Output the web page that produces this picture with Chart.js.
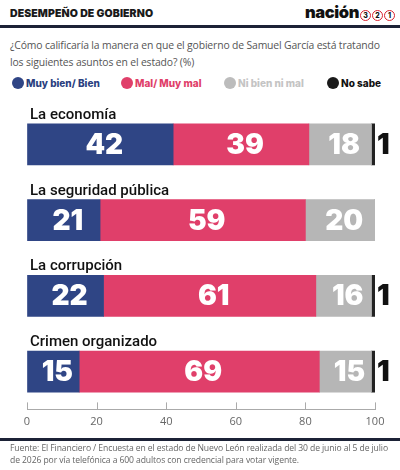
<!doctype html>
<html lang="es">
  <head>
    <meta charset="utf-8">
    <title>Desempeño de gobierno</title>
    <script src="https://cdn.jsdelivr.net/npm/chart.js"></script>
    <style>
        html, body { margin: 0; padding: 0; background: #fff; }
        #page { position: relative; width: 400px; height: 470px; overflow: hidden; font-family: "Inter", sans-serif; }
        .abs { position: absolute; white-space: nowrap; }
        #head { left: 10px; top: 7px; font-size: 10.5px; font-weight: 900; color: #1a1a1a; letter-spacing: 0.1px; }
        #logo { right: 41px; top: 2px; font-size: 16.5px; font-weight: 900; color: #111; letter-spacing: -0.4px; }
        .circ { position: absolute; top: 10px; width: 9px; height: 9px; border: 1.3px solid #d8222f; border-radius: 50%; font-size: 7px; font-weight: 800; line-height: 9px; text-align: center; color: #111; }
        .rule { left: 0; width: 400px; height: 2.5px; background: #1c2236; }
        #sub { left: 10px; top: 37px; font-family: "Open Sans", sans-serif; font-size: 10.4px; line-height: 17px; color: #555; letter-spacing: -0.15px; }
        .leg { top: 76px; font-size: 10px; font-weight: 800; line-height: 14px; }
        .leg i { display: inline-block; width: 12px; height: 12px; border-radius: 50%; vertical-align: -2px; margin-right: 2px; }
        #foot { left: 10px; top: 442px; font-family: "Open Sans", sans-serif; font-size: 8.6px; line-height: 12px; color: #666; letter-spacing: -0.1px; }
        #wrap { position: absolute; left: 0; top: 95px; width: 400px; height: 345px; }
    </style>
  </head>
  <body>
    <div id="page">
        <div class="abs" id="head">DESEMPEÑO DE GOBIERNO</div>
        <div class="abs" id="logo">nación</div>
        <div class="circ" style="left: 360px;">3</div>
        <div class="circ" style="left: 372px;">2</div>
        <div class="circ" style="left: 384px;">1</div>
        <div class="abs rule" style="top: 25px;"></div>
        <div class="abs" id="sub">¿Cómo calificaría la manera en que el gobierno de Samuel García está tratando<br>los siguientes asuntos en el estado? (%)</div>
        <div class="abs leg" style="left: 12px; color: #2b3f7f;"><i style="background: #2f4585;"></i>Muy bien/ Bien</div>
        <div class="abs leg" style="left: 121px; color: #e03f6a;"><i style="background: #e03f6a;"></i>Mal/ Muy mal</div>
        <div class="abs leg" style="left: 224px; color: #c4c4c4;"><i style="background: #bcbcbc;"></i>Ni bien ni mal</div>
        <div class="abs leg" style="left: 327px; color: #111;"><i style="background: #1a1a1a;"></i>No sabe</div>
        <div id="wrap"><canvas id="chart"></canvas></div>
        <div class="abs rule" style="top: 438px;"></div>
        <div class="abs" id="foot">Fuente: El Financiero / Encuesta en el estado de Nuevo León realizada del 30 de junio al 5 de julio<br>de 2026 por vía telefónica a 600 adultos con credencial para votar vigente.</div>
    </div>

    <script>
        const Categories = ['La economía', 'La seguridad pública', 'La corrupción', 'Crimen organizado']
        const MuyBien = [42, 21, 22, 15]
        const Mal = [39, 59, 61, 69]
        const NiBien = [18, 20, 16, 15]
        const NoSabe = [1, 0, 1, 1]
        const XTicks = [0, 20, 40, 60, 80, 100]

        const BarHeight = 41

        // category names above each bar + values inside, plus upward axis ticks
        const BarText = {
            id: 'barText',
            afterDatasetsDraw(chart) {
                const ctx = chart.ctx
                const yScale = chart.scales.y
                const xScale = chart.scales.x
                ctx.save()

                ctx.fillStyle = '#111'
                ctx.font = '500 15px Roboto'
                ctx.textAlign = 'left'
                ctx.textBaseline = 'alphabetic'
                Categories.forEach((name, i) => {
                    ctx.fillText(name, 30, yScale.getPixelForValue(i) - BarHeight / 2 - 5)
                })

                ctx.font = '900 28px Inter'
                ctx.textBaseline = 'middle'
                chart.data.datasets.forEach((ds, d) => {
                    chart.getDatasetMeta(d).data.forEach((bar, i) => {
                        const v = ds.data[i]
                        if (!v) return
                        if (d === 3) {
                            ctx.fillStyle = '#111'
                            ctx.textAlign = 'left'
                            ctx.fillText(v, bar.x + 2, bar.y + 1)
                        } else {
                            ctx.fillStyle = '#fff'
                            ctx.textAlign = 'center'
                            ctx.fillText(v, (bar.x + bar.base) / 2 + 4, bar.y + 1)
                        }
                    })
                })

                const bottom = chart.chartArea.bottom
                ctx.strokeStyle = '#aaa'
                ctx.lineWidth = 1
                XTicks.forEach((t) => {
                    const x = Math.round(xScale.getPixelForValue(t)) + 0.5
                    ctx.beginPath()
                    ctx.moveTo(x, bottom - 7)
                    ctx.lineTo(x, bottom)
                    ctx.stroke()
                })
                ctx.restore()
            }
        }

        new Chart(document.getElementById('chart'), {
            type: 'bar',
            data: {
                labels: Categories,
                datasets: [
                    { label: 'Muy bien/ Bien', data: MuyBien, backgroundColor: '#2f4585' },
                    { label: 'Mal/ Muy mal', data: Mal, backgroundColor: '#e03f6a' },
                    { label: 'Ni bien ni mal', data: NiBien, backgroundColor: '#b6b6b6' },
                    { label: 'No sabe', data: NoSabe, backgroundColor: '#222' }
                ]
            },
            options: {
                indexAxis: 'y',
                responsive: true,
                maintainAspectRatio: false,
                animation: false,
                datasets: { bar: { barThickness: BarHeight } },
                layout: { padding: { left: 27, right: 25, top: 11.6, bottom: 5.4 } },
                plugins: {
                    legend: { display: false },
                    tooltip: { enabled: false }
                },
                scales: {
                    y: { stacked: true, display: false },
                    x: {
                        stacked: true,
                        min: 0,
                        max: 100,
                        afterBuildTicks: (axis) => { axis.ticks = XTicks.map((v) => ({ value: v })) },
                        grid: { drawOnChartArea: false, drawTicks: false },
                        border: { display: true, color: '#aaa' },
                        ticks: {
                            padding: 6,
                            color: '#666',
                            font: { family: 'Open Sans', size: 11 }
                        }
                    }
                }
            },
            plugins: [BarText]
        });
    </script>
  </body>
</html>
